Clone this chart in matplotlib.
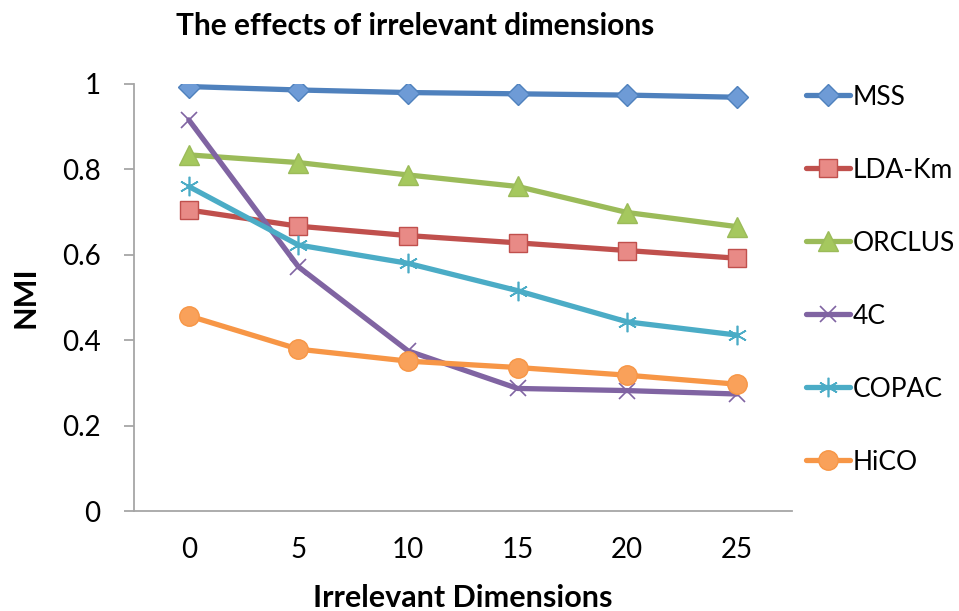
import matplotlib
matplotlib.use("Agg")
import matplotlib.pyplot as plt
import numpy as np

plt.rcParams['font.family'] = ['Lato', 'DejaVu Sans']

categories = ["0", "5", "10", "15", "20", "25"]
mss = [0.994, 0.986, 0.980, 0.977, 0.974, 0.969]
lda_km = [0.705, 0.667, 0.645, 0.628, 0.610, 0.592]
orclus = [0.834, 0.816, 0.787, 0.760, 0.699, 0.666]
c4 = [0.916, 0.572, 0.375, 0.287, 0.282, 0.274]
copac = [0.760, 0.623, 0.580, 0.516, 0.443, 0.412]
hico = [0.457, 0.379, 0.351, 0.336, 0.318, 0.297]
yticks = [0, 0.2, 0.4, 0.6, 0.8, 1]
ytick_labels = ["0", "0.2", "0.4", "0.6", "0.8", "1"]

series = [
    ("MSS", mss, "#4F81BD", "#6E9BD6", "D", 11),
    ("LDA-Km", lda_km, "#C0504D", "#E88A86", "s", 13),
    ("ORCLUS", orclus, "#9BBB59", "#A5C85E", "^", 14),
    ("4C", c4, "#8064A2", "#8064A2", "x", 12),
    ("COPAC", copac, "#4BACC6", "#4BACC6", (6, 2, 0), 14),
    ("HiCO", hico, "#F79646", "#F9A15A", "o", 14),
]

fig = plt.figure(figsize=(9.59, 6.11), dpi=100)
ax = fig.add_axes([134/959, 1-511/611, (791.6-134)/959, (511-84)/611])

x = np.arange(len(categories))
handles = []
for name, vals, col, fill, mk, ms in series:
    if mk in ("x",) or isinstance(mk, tuple):
        h, = ax.plot(x, vals, color=col, lw=3.8, marker=mk, markersize=ms,
                     markeredgecolor=col, markeredgewidth=1.2, label=name,
                     solid_capstyle='round', solid_joinstyle='round')
    else:
        h, = ax.plot(x, vals, color=col, lw=3.8, marker=mk, markersize=ms,
                     markerfacecolor=fill, markeredgecolor=col, markeredgewidth=1.0,
                     label=name, solid_capstyle='round', solid_joinstyle='round')
    handles.append(h)

ax.set_xlim(-0.5, len(categories) - 0.5)
ax.set_ylim(0, 1)
ax.set_xticks(x)
ax.set_xticklabels(categories)
ax.set_yticks(yticks)
ax.set_yticklabels(ytick_labels)
for s in ("top", "right"):
    ax.spines[s].set_visible(False)
for s in ("left", "bottom"):
    ax.spines[s].set_color("#A6A6A6")
    ax.spines[s].set_linewidth(1.3)
ax.tick_params(axis='y', direction='out', length=7, width=1.3, color="#A6A6A6",
               labelsize=20, pad=17)
ax.tick_params(axis='x', length=0, labelsize=20, pad=19)

ax.set_xlabel("Irrelevant Dimensions", fontsize=22, fontweight='bold', labelpad=15)
ax.set_ylabel("NMI", fontsize=22, fontweight='bold', labelpad=16)
fig.text(415/959, 1-26/611, "The effects of irrelevant dimensions", fontsize=21.5,
         fontweight='bold', ha='center', va='center')

leg = fig.legend(handles=handles, loc='upper left', bbox_to_anchor=(795/959, 1-74/611),
                 frameon=False, fontsize=19, handlelength=1.7, handletextpad=0.1,
                 labelspacing=1.82, borderaxespad=0)

fig.savefig("out.png", dpi=100)
